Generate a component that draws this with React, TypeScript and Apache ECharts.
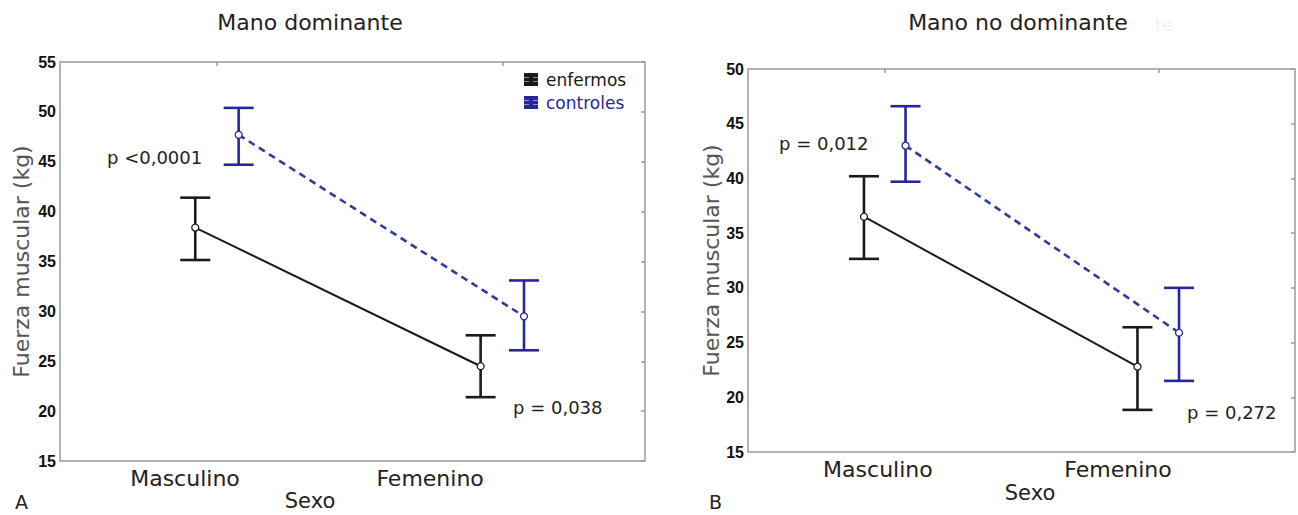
import React, { useEffect, useRef } from "react";
import * as echarts from "echarts";

// ---------- data ----------
const categories = ["Masculino", "Femenino"];
const groupNames = ["enfermos", "controles"];
const panelTitles = ["Mano dominante", "Mano no dominante"];
const panelLetters = ["A", "B"];
const yAxisName = "Fuerza muscular (kg)";
const xAxisName = "Sexo";

const domYTicks = [15, 20, 25, 30, 35, 40, 45, 50, 55];
const ndYTicks = [15, 20, 25, 30, 35, 40, 45, 50];

// Mano dominante
const domEnfMean = [38.4, 24.5];
const domEnfLow = [35.15, 21.4];
const domEnfHigh = [41.4, 27.6];
const domCtlMean = [47.7, 29.5];
const domCtlLow = [44.7, 26.1];
const domCtlHigh = [50.4, 33.1];
const domPValues = ["p <0,0001", "p = 0,038"];

// Mano no dominante
const ndEnfMean = [36.5, 22.8];
const ndEnfLow = [32.65, 18.85];
const ndEnfHigh = [40.2, 26.4];
const ndCtlMean = [43.0, 25.9];
const ndCtlLow = [39.7, 21.5];
const ndCtlHigh = [46.6, 30.0];
const ndPValues = ["p = 0,012", "p = 0,272"];

// ---------- style ----------
const FONT = "'DejaVu Sans', Verdana, sans-serif";
const NUMFONT = "'Liberation Sans', Arial, sans-serif";
const BLACK = "#1a1a1a";
const BLUE = "#26269e";
const DASHBLUE = "#2e3c9e";
const TEXT = "#222";
const BORDER = "#9a9a9a";
const OFFSET = 0.076;

const panels = [
  {
    grid: { left: 60, top: 62, width: 585, height: 399 },
    xMin: 0.45, xMax: 2.5,
    labelPos: [0.888, 1.747],
    yTicks: domYTicks,
    enf: [domEnfMean, domEnfLow, domEnfHigh],
    ctl: [domCtlMean, domCtlLow, domCtlHigh],
    nameGap: 28,
  },
  {
    grid: { left: 748, top: 69, width: 547, height: 383 },
    xMin: 0.5, xMax: 2.5,
    labelPos: [0.975, 1.853],
    yTicks: ndYTicks,
    enf: [ndEnfMean, ndEnfLow, ndEnfHigh],
    ctl: [ndCtlMean, ndCtlLow, ndCtlHigh],
    nameGap: 26,
  },
];

function errRender(color: string) {
  return (params: any, api: any) => {
    const x = api.value(0);
    const lo = api.coord([x, api.value(1)]);
    const hi = api.coord([x, api.value(2)]);
    const hw = 15;
    const st = { stroke: color, lineWidth: 2.6 };
    return {
      type: "group",
      children: [
        { type: "line", shape: { x1: lo[0], y1: lo[1], x2: hi[0], y2: hi[1] }, style: st },
        { type: "line", shape: { x1: lo[0] - hw, y1: lo[1], x2: lo[0] + hw, y2: lo[1] }, style: st },
        { type: "line", shape: { x1: hi[0] - hw, y1: hi[1], x2: hi[0] + hw, y2: hi[1] }, style: st },
      ],
    };
  };
}

function buildOption() {
  const grids: any[] = [];
  const xAxes: any[] = [];
  const yAxes: any[] = [];
  const series: any[] = [];

  panels.forEach((p, g) => {
    grids.push({ ...p.grid, show: true, borderColor: BORDER, borderWidth: 1.5, backgroundColor: "#fff", containLabel: false });
    const yMin = p.yTicks[0];
    const yMax = p.yTicks[p.yTicks.length - 1];
    const yStep = p.yTicks[1] - p.yTicks[0];
    xAxes.push({
      gridIndex: g, type: "value", min: p.xMin, max: p.xMax, position: "bottom",
      axisLine: { show: false }, axisTick: { show: false }, splitLine: { show: false },
      axisLabel: {
        customValues: p.labelPos,
        formatter: (v: number) => {
          const i = p.labelPos.findIndex((q) => Math.abs(q - v) < 1e-6);
          return i >= 0 ? categories[i] : "";
        },
        margin: 6, fontSize: 22, color: TEXT, fontFamily: FONT,
      },
    });
    xAxes.push({
      gridIndex: g, type: "value", min: p.xMin, max: p.xMax, position: "top",
      axisLine: { show: false }, axisLabel: { show: false }, splitLine: { show: false },
      axisTick: { show: true, inside: true, length: 4, customValues: [1, 2], lineStyle: { color: BORDER, width: 1.5 } },
    });
    yAxes.push({
      gridIndex: g, type: "value", min: yMin, max: yMax, interval: yStep, position: "left",
      axisLine: { show: false }, axisTick: { show: false }, splitLine: { show: false },
      axisLabel: { fontFamily: NUMFONT, fontWeight: "bold", fontSize: 16, color: "#111", margin: 4 },
      name: yAxisName, nameLocation: "middle", nameGap: p.nameGap, nameRotate: 90,
      nameTextStyle: { fontFamily: FONT, fontSize: 22, color: "#555" },
    });
    yAxes.push({
      gridIndex: g, type: "value", min: yMin, max: yMax, interval: yStep, position: "right",
      axisLine: { show: false }, axisLabel: { show: false }, splitLine: { show: false },
      axisTick: { show: true, inside: true, length: 4, lineStyle: { color: BORDER, width: 1.5 } },
    });

    const groups = [
      { name: groupNames[0], vals: p.enf, color: BLACK, lineColor: BLACK, dash: "solid" as any, off: -OFFSET },
      { name: groupNames[1], vals: p.ctl, color: BLUE, lineColor: DASHBLUE, dash: [7, 5], off: OFFSET },
    ];
    groups.forEach((gr) => {
      const [mean, low, high] = gr.vals;
      series.push({
        type: "custom", name: gr.name + "-err", xAxisIndex: 2 * g, yAxisIndex: 2 * g,
        renderItem: errRender(gr.color), clip: false, z: 2,
        encode: { x: 0, y: [1, 2] },
        data: categories.map((_, i) => [i + 1 + gr.off, low[i], high[i]]),
      });
      series.push({
        type: "line", name: gr.name, xAxisIndex: 2 * g, yAxisIndex: 2 * g, z: 3,
        symbol: "circle", symbolSize: 7, showSymbol: true,
        itemStyle: { color: "#fff", borderColor: gr.color, borderWidth: 1.3 },
        lineStyle: { color: gr.lineColor, width: gr.dash === "solid" ? 2 : 2.6, type: gr.dash },
        data: categories.map((_, i) => [i + 1 + gr.off, mean[i]]),
      });
    });
  });

  const txt = (text: string, x: number, y: number, size: number, align = "center", color = TEXT) => ({
    type: "text", x, y, silent: true,
    style: { text, fontSize: size, fontFamily: FONT, fill: color, align, verticalAlign: "middle" },
  });

  const graphic: any[] = [
    txt(panelTitles[0], 310, 22, 22),
    txt(panelTitles[1], 1018, 22, 22),
    txt("te", 1155, 24, 18, "left", "#f0f0f0"),
    txt(xAxisName, 310, 501, 21),
    txt(xAxisName, 1030, 493, 21),
    txt(panelLetters[0], 15, 502, 19, "left"),
    txt(panelLetters[1], 709, 502, 19, "left"),
    txt(domPValues[0], 107, 157, 18, "left"),
    txt(domPValues[1], 513, 407, 18, "left"),
    txt(ndPValues[0], 779, 143, 18, "left"),
    txt(ndPValues[1], 1187, 412, 18, "left"),
  ];

  return {
    animation: false,
    backgroundColor: "#fff",
    grid: grids,
    xAxis: xAxes,
    yAxis: yAxes,
    series,
    legend: {
      orient: "vertical", left: 524, top: 71, padding: 0,
      itemWidth: 20, itemHeight: 11, itemGap: 6, selectedMode: false,
      icon: "path://M0 0H12V2H0Z M0 4.5H12V6.5H0Z M0 9H12V11H0Z M5 0H7V11H5Z",
      textStyle: { fontFamily: FONT, fontSize: 17, lineHeight: 17 },
      data: [
        { name: groupNames[0], itemStyle: { color: BLACK }, textStyle: { color: BLACK } },
        { name: groupNames[1], itemStyle: { color: BLUE }, textStyle: { color: BLUE } },
      ],
    },
    graphic,
  };
}

export default function App() {
  const ref = useRef<HTMLDivElement>(null);
  useEffect(() => {
    if (!ref.current) return;
    const chart = echarts.init(ref.current, undefined, { renderer: "svg" });
    chart.setOption(buildOption() as any);
    return () => chart.dispose();
  }, []);
  return (
    <div
      ref={ref}
      style={{ position: "fixed", left: 0, top: 0, width: 1298, height: 515, background: "#fff" }}
    />
  );
}
